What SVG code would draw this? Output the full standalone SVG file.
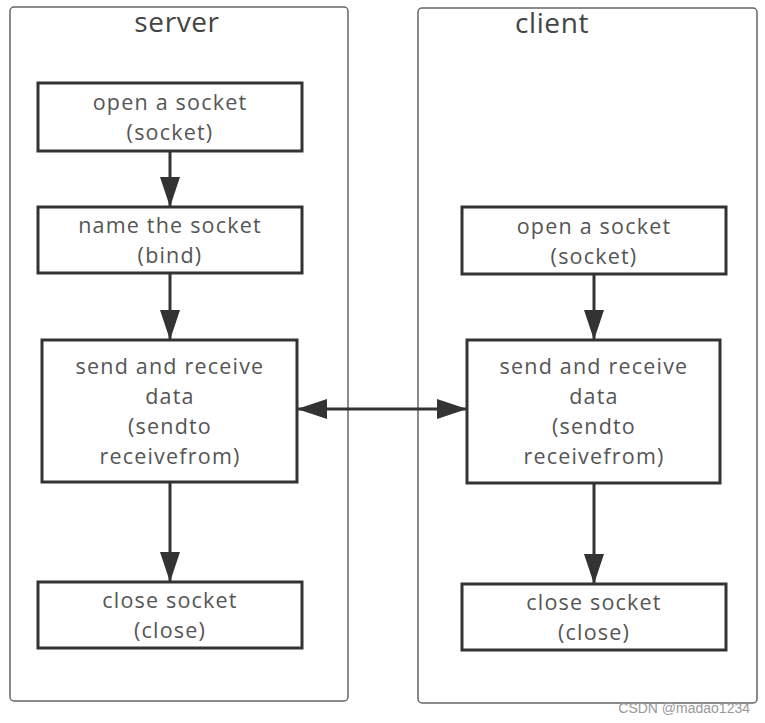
<svg xmlns="http://www.w3.org/2000/svg" width="765" height="723" viewBox="0 0 765 723">
<style>
.cont{fill:#fff;stroke:#666;stroke-width:1.5}
.box{fill:#fff;stroke:#333;stroke-width:3}
.t{font-family:"Open Sans","Noto Sans",sans-serif;font-size:21.5px;letter-spacing:1.2px;fill:#555;text-anchor:middle}
.title{font-family:"Open Sans","Noto Sans",sans-serif;font-size:28px;letter-spacing:0.6px;fill:#444;text-anchor:middle}
.edge{stroke:#333;stroke-width:3;fill:none}
.wm{font-family:"Liberation Sans Narrow","Liberation Sans",sans-serif;font-size:14px;fill:#999;text-anchor:end}
</style>
<defs>
<marker id="ah2" viewBox="0 0 30 20" refX="30" refY="10" markerWidth="30" markerHeight="20" markerUnits="userSpaceOnUse" orient="auto-start-reverse">
<path d="M0,0 L30,10 L0,20 z" fill="#333"/>
</marker>
</defs>
<rect width="765" height="723" fill="#fff"/>
<g id="server">
<rect class="cont" x="10" y="7" width="338" height="694" rx="4"/>
<text class="title" x="177" y="32">server</text>
</g>
<g id="client">
<rect class="cont" x="418" y="8" width="339" height="695" rx="4"/>
<text class="title" x="552" y="33">client</text>
</g>
<g id="connectors">
<line class="edge" x1="170" y1="151" x2="170" y2="207" marker-end="url(#ah2)"/>
<line class="edge" x1="170" y1="273" x2="170" y2="340" marker-end="url(#ah2)"/>
<line class="edge" x1="170" y1="482" x2="170" y2="582" marker-end="url(#ah2)"/>
<line class="edge" x1="594" y1="274" x2="594" y2="340" marker-end="url(#ah2)"/>
<line class="edge" x1="594" y1="483" x2="594" y2="584" marker-end="url(#ah2)"/>
<line class="edge" x1="297" y1="409" x2="467" y2="409" marker-start="url(#ah2)" marker-end="url(#ah2)"/>
</g>
<g id="s-open">
<rect class="box" x="38" y="83" width="264" height="68"/>
<text class="t" x="170" y="110">open a socket</text>
<text class="t" x="170" y="140">(socket)</text>
</g>
<g id="s-bind">
<rect class="box" x="38" y="207" width="264" height="66"/>
<text class="t" x="170" y="233">name the socket</text>
<text class="t" x="170" y="263">(bind)</text>
</g>
<g id="s-data">
<rect class="box" x="42" y="340" width="255" height="142"/>
<text class="t" x="170" y="374">send and receive</text>
<text class="t" x="170" y="404">data</text>
<text class="t" x="170" y="434">(sendto</text>
<text class="t" x="170" y="464">receivefrom)</text>
</g>
<g id="s-close">
<rect class="box" x="38" y="582" width="264" height="66"/>
<text class="t" x="170" y="608">close socket</text>
<text class="t" x="170" y="638">(close)</text>
</g>
<g id="c-open">
<rect class="box" x="462" y="207" width="264" height="67"/>
<text class="t" x="594" y="234">open a socket</text>
<text class="t" x="594" y="264">(socket)</text>
</g>
<g id="c-data">
<rect class="box" x="467" y="340" width="253" height="143"/>
<text class="t" x="594" y="374">send and receive</text>
<text class="t" x="594" y="404">data</text>
<text class="t" x="594" y="434">(sendto</text>
<text class="t" x="594" y="464">receivefrom)</text>
</g>
<g id="c-close">
<rect class="box" x="462" y="584" width="264" height="66"/>
<text class="t" x="594" y="610">close socket</text>
<text class="t" x="594" y="640">(close)</text>
</g>
<text class="wm" x="750" y="713">CSDN @madao1234</text>
</svg>
